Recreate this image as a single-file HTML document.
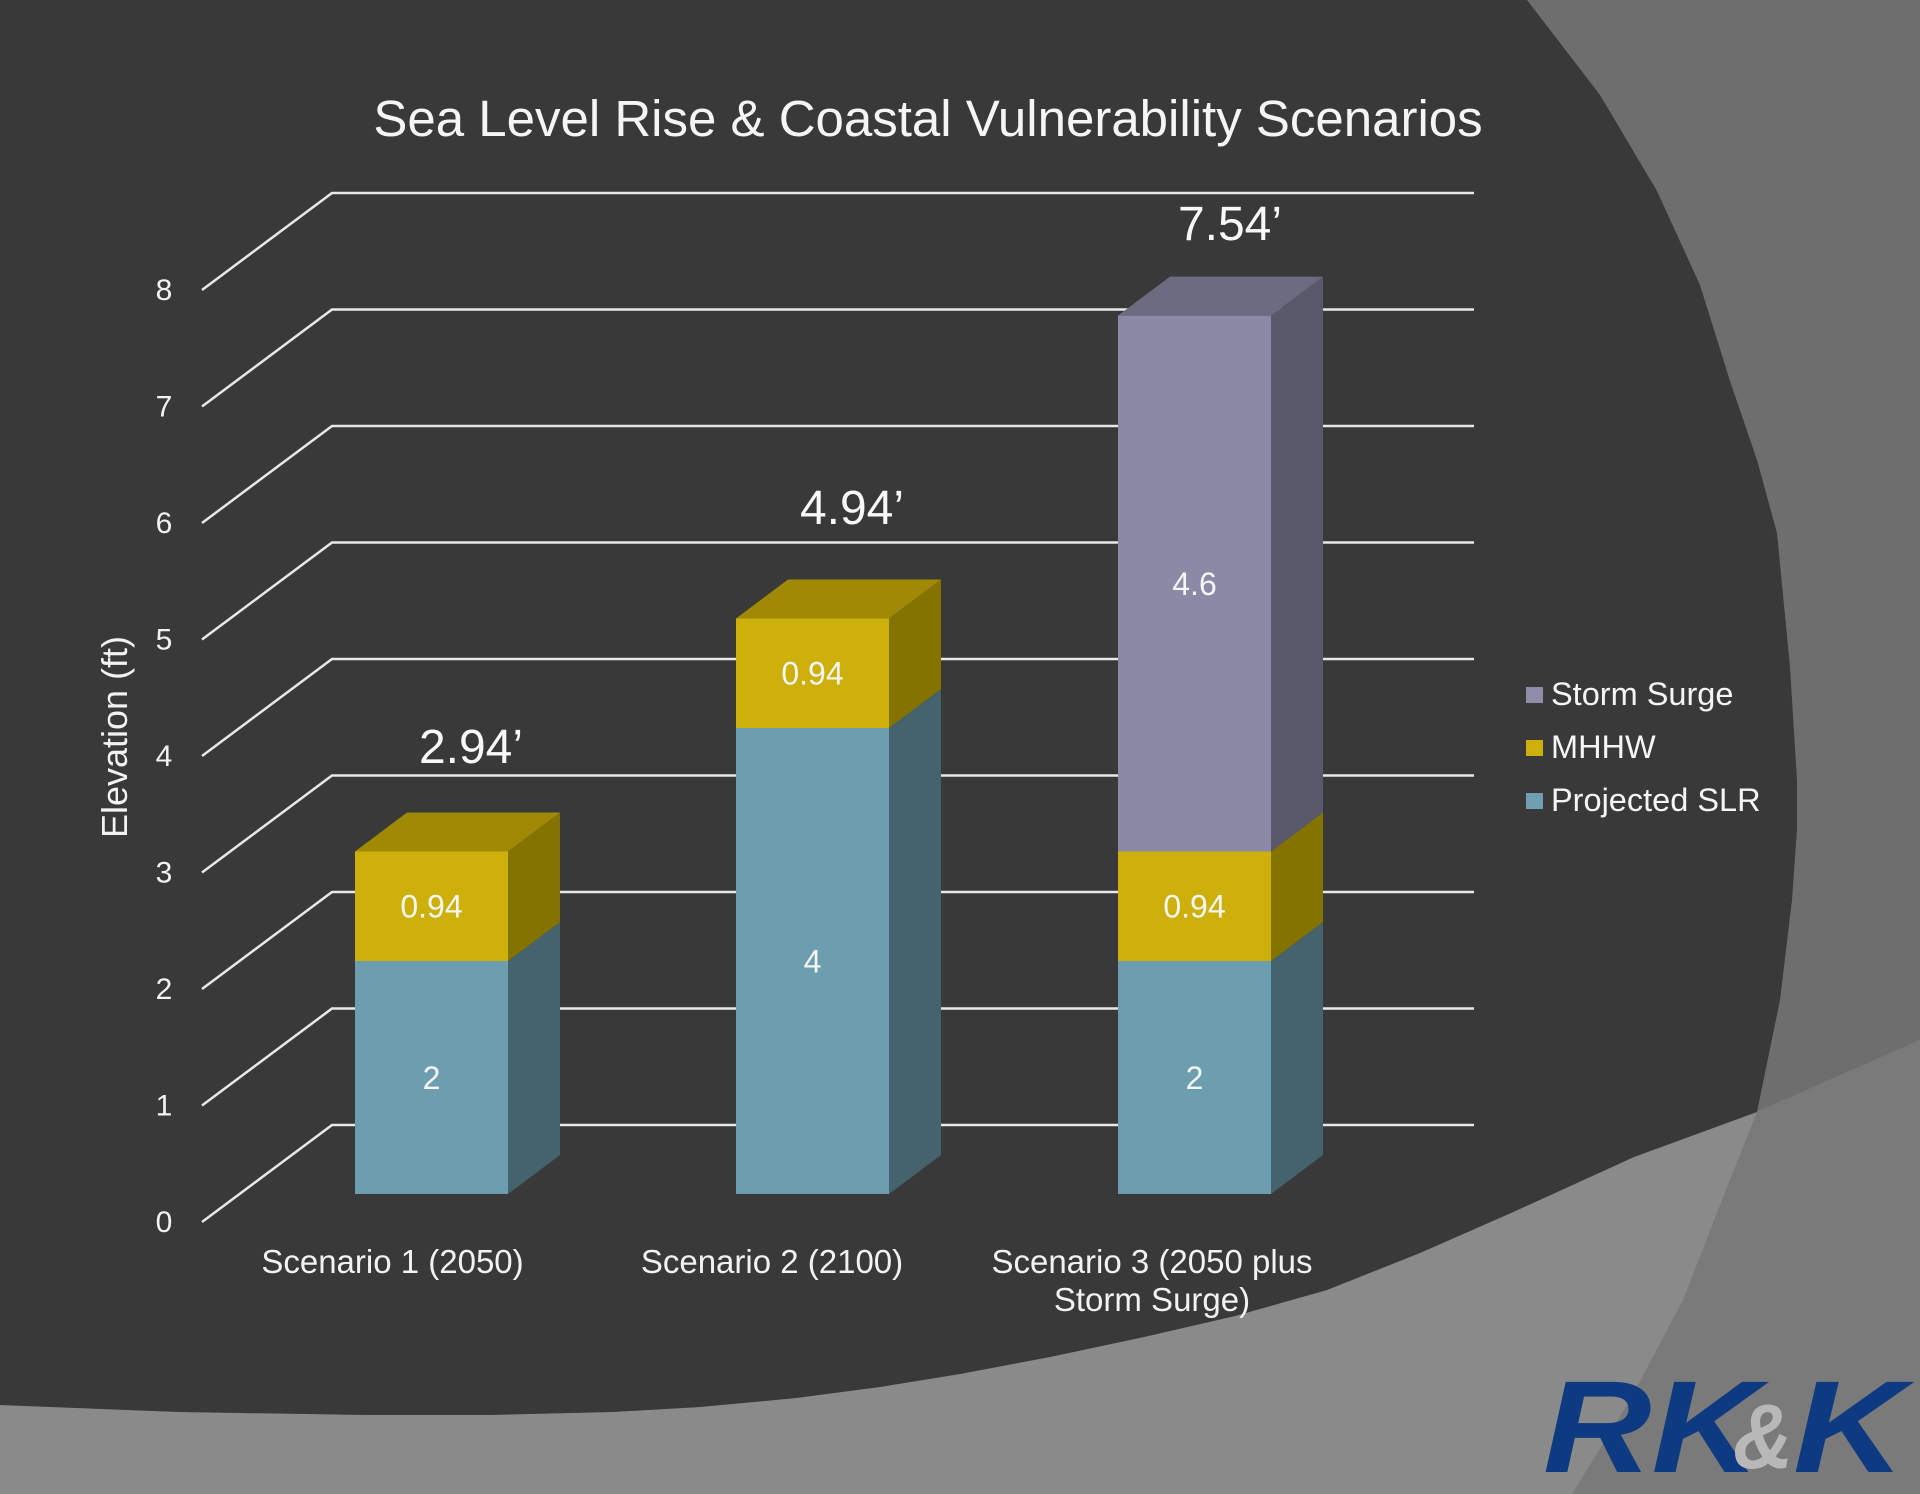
<!DOCTYPE html>
<html>
<head>
<meta charset="utf-8">
<style>
  html, body { margin: 0; padding: 0; width: 1920px; height: 1494px; overflow: hidden; background: #393939; }
  svg { display: block; }
  text { font-family: "Liberation Sans", Arial, sans-serif; }
</style>
</head>
<body>
<svg width="1920" height="1494" viewBox="0 0 1920 1494" xmlns="http://www.w3.org/2000/svg">
  <!-- Background layers -->
  <rect x="0" y="0" width="1920" height="1494" fill="#8a8a8a"/>
  <path d="M1527,0 L1600,95 L1657,191 L1700,285 L1730,381 L1757,460 L1777,533 L1790,667 L1797,780 L1797,829 L1792,900 L1780,1000 L1757,1112 L1720,1205 L1683,1300 L1630,1400 L1572,1494 L1920,1494 L1920,0 Z" fill="#7a7a7a"/>
  <path d="M0,0 L1920,0 L1920,1040 L1756,1112 L1634,1157 L1511,1213 L1420,1253 L1327,1290 L1235,1316 L1144,1337 L1050,1357 L960,1374 L880,1387 L796,1398 L700,1407 L612,1412 L490,1415 L367,1415 L180,1412 L0,1405 Z" fill="#6e6e6e"/>
  <path d="M0,0 L1527,0 L1600,95 L1657,191 L1700,285 L1730,381 L1757,460 L1777,533 L1790,667 L1797,780 L1797,829 L1792,900 L1780,1000 L1757,1112 L1634,1157 L1511,1213 L1420,1253 L1327,1290 L1235,1316 L1144,1337 L1050,1357 L960,1374 L880,1387 L796,1398 L700,1407 L612,1412 L490,1415 L367,1415 L180,1412 L0,1405 Z" fill="#393939"/>

  <!-- Title -->
  <text x="928" y="136" font-size="51" fill="#f5f5f5" text-anchor="middle">Sea Level Rise &amp; Coastal Vulnerability Scenarios</text>

  <!-- Gridlines -->
  <g stroke="#e8e8e8" stroke-width="2.5" fill="none">
    <polyline points="202,1222 332,1125 1474,1125"/>
    <polyline points="202,1105.5 332,1008.5 1474,1008.5"/>
    <polyline points="202,989 332,892 1474,892"/>
    <polyline points="202,872.5 332,775.5 1474,775.5"/>
    <polyline points="202,756 332,659 1474,659"/>
    <polyline points="202,639.5 332,542.5 1474,542.5"/>
    <polyline points="202,523 332,426 1474,426"/>
    <polyline points="202,406.5 332,309.5 1474,309.5"/>
    <polyline points="202,290 332,193 1474,193"/>
  </g>

  <!-- Y tick labels -->
  <g font-size="30" fill="#f2f2f2" text-anchor="middle">
    <text x="164" y="1232">0</text>
    <text x="164" y="1115.5">1</text>
    <text x="164" y="999">2</text>
    <text x="164" y="882.5">3</text>
    <text x="164" y="766">4</text>
    <text x="164" y="649.5">5</text>
    <text x="164" y="533">6</text>
    <text x="164" y="416.5">7</text>
    <text x="164" y="300">8</text>
  </g>

  <!-- Y axis title -->
  <text transform="translate(127,737) rotate(-90)" font-size="36" fill="#f2f2f2" text-anchor="middle">Elevation (ft)</text>

  <!-- Bar 1 -->
  <rect x="355" y="961" width="153" height="233" fill="#6d9eaf"/>
  <polygon points="508,1194 560,1155 560,922 508,961" fill="#45636d"/>
  <rect x="355" y="851.5" width="153" height="109.5" fill="#cdb00b"/>
  <polygon points="508,961 560,922 560,812.5 508,851.5" fill="#857300"/>
  <polygon points="355,851.5 407,812.5 560,812.5 508,851.5" fill="#a08a05"/>

  <!-- Bar 2 -->
  <rect x="736" y="728" width="153" height="466" fill="#6d9eaf"/>
  <polygon points="889,1194 941,1155 941,689 889,728" fill="#45636d"/>
  <rect x="736" y="618.5" width="153" height="109.5" fill="#cdb00b"/>
  <polygon points="889,728 941,689 941,579.5 889,618.5" fill="#857300"/>
  <polygon points="736,618.5 788,579.5 941,579.5 889,618.5" fill="#a08a05"/>

  <!-- Bar 3 -->
  <rect x="1118" y="961" width="153" height="233" fill="#6d9eaf"/>
  <polygon points="1271,1194 1323,1155 1323,922 1271,961" fill="#45636d"/>
  <rect x="1118" y="851.5" width="153" height="109.5" fill="#cdb00b"/>
  <polygon points="1271,961 1323,922 1323,812.5 1271,851.5" fill="#857300"/>
  <rect x="1118" y="315.6" width="153" height="535.9" fill="#8b89a5"/>
  <polygon points="1271,851.5 1323,812.5 1323,276.6 1271,315.6" fill="#5a586b"/>
  <polygon points="1118,315.6 1170,276.6 1323,276.6 1271,315.6" fill="#6d6b80"/>

  <!-- Value labels -->
  <g font-size="32" fill="#f5f5f5" text-anchor="middle">
    <text x="431.5" y="1089">2</text>
    <text x="431.5" y="917.5">0.94</text>
    <text x="812.5" y="972.5">4</text>
    <text x="812.5" y="684.5">0.94</text>
    <text x="1194.5" y="1089">2</text>
    <text x="1194.5" y="917.5">0.94</text>
    <text x="1194.5" y="595">4.6</text>
  </g>

  <!-- Totals -->
  <g font-size="48" fill="#f8f8f8" text-anchor="middle">
    <text x="471" y="763">2.94’</text>
    <text x="852" y="524">4.94’</text>
    <text x="1230" y="240">7.54’</text>
  </g>

  <!-- X labels -->
  <g font-size="33" fill="#f2f2f2" text-anchor="middle">
    <text x="392.5" y="1273">Scenario 1 (2050)</text>
    <text x="772" y="1273">Scenario 2 (2100)</text>
    <text x="1152" y="1273">Scenario 3 (2050 plus</text>
    <text x="1152" y="1311">Storm Surge)</text>
  </g>

  <!-- Legend -->
  <rect x="1526" y="687" width="17" height="16" fill="#8f8caa"/>
  <rect x="1526" y="740" width="17" height="16" fill="#cdb00c"/>
  <rect x="1526" y="793" width="17" height="16" fill="#6ea0b2"/>
  <g font-size="32.5" fill="#f5f5f5">
    <text x="1551" y="705">Storm Surge</text>
    <text x="1551" y="758">MHHW</text>
    <text x="1551" y="811">Projected SLR</text>
  </g>

  <!-- Logo -->
  <g font-weight="bold" font-style="italic">
    <text x="1543" y="1472" font-size="131" fill="#0d3a80" textLength="217" lengthAdjust="spacingAndGlyphs">RK</text>
    <text x="1733" y="1468" font-size="92" fill="#b8b8b8" textLength="60" lengthAdjust="spacingAndGlyphs">&amp;</text>
    <text x="1793" y="1472" font-size="131" fill="#0d3a80" textLength="112" lengthAdjust="spacingAndGlyphs">K</text>
  </g>
</svg>
</body>
</html>
